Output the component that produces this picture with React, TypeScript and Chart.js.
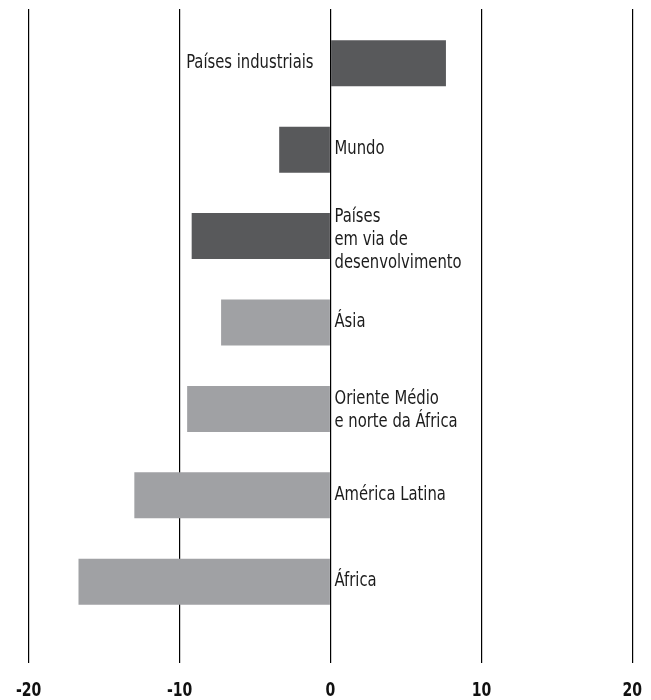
import React, { useEffect, useRef } from "react";
import { Chart, registerables } from "chart.js";

Chart.register(...registerables);

const categories: string[][] = [
  ["Países industriais"],
  ["Mundo"],
  ["Países", "em via de", "desenvolvimento"],
  ["Ásia"],
  ["Oriente Médio", "e norte da África"],
  ["América Latina"],
  ["África"],
];
const values: number[] = [7.65, -3.4, -9.2, -7.25, -9.5, -13.0, -16.7];
const groups: string[] = ["dark", "dark", "dark", "light", "light", "light", "light"];
const xTicks: number[] = [-20, -10, 0, 10, 20];
const xTickLabels: string[] = ["-20", "-10", "0", "10", "20"];

const DARK = "#58595b";
const LIGHT = "#a0a1a4";
const FONT = "'DejaVu Sans Condensed', 'DejaVu Sans', sans-serif";

function drawScaledText(ctx: CanvasRenderingContext2D, text: string, x: number, y: number, sx: number) {
  ctx.save();
  ctx.translate(x, y);
  ctx.scale(sx, 1);
  ctx.fillText(text, 0, 0);
  ctx.restore();
}

const labelPlugin = {
  id: "barLabels",
  afterDatasetsDraw(chart: any) {
    const ctx = chart.ctx;
    const meta = chart.getDatasetMeta(0);
    const xScale = chart.scales.x;
    const zero = xScale.getPixelForValue(0);
    ctx.save();
    ctx.font = `19px ${FONT}`;
    ctx.fillStyle = "#1c1c1c";
    ctx.textBaseline = "alphabetic";
    meta.data.forEach((bar: any, i: number) => {
      const lines = categories[i];
      const n = lines.length;
      const v = values[i];
      const x = v >= 0 ? zero - 17 : zero + 4;
      ctx.textAlign = v >= 0 ? "right" : "left";
      lines.forEach((line, j) => {
        const y = bar.y + 4.5 + (j - (n - 1) / 2) * 23 + (n - 1) * 2.25;
        drawScaledText(ctx, line, x, y, 0.865);
      });
    });
    ctx.restore();
  },
  afterDraw(chart: any) {
    const ctx = chart.ctx;
    const xScale = chart.scales.x;
    const bottom = chart.chartArea.bottom;
    ctx.save();
    ctx.font = `bold 20px ${FONT}`;
    ctx.fillStyle = "#111";
    ctx.textAlign = "center";
    ctx.textBaseline = "alphabetic";
    xTicks.forEach((v, i) => {
      const px = xScale.getPixelForValue(v);
      drawScaledText(ctx, xTickLabels[i], px, bottom + 70.5, 0.78);
    });
    ctx.restore();
  },
};

export default function App() {
  const ref = useRef<HTMLCanvasElement>(null);
  useEffect(() => {
    if (!ref.current) return;
    const chart = new Chart(ref.current, {
      type: "bar",
      data: {
        labels: categories.map((c) => c.join(" ")),
        datasets: [
          {
            data: values,
            backgroundColor: groups.map((g) => (g === "dark" ? DARK : LIGHT)),
            borderWidth: 0,
            barPercentage: 1,
            categoryPercentage: 0.532,
          },
        ],
      },
      options: {
        indexAxis: "y",
        animation: false,
        responsive: true,
        maintainAspectRatio: false,
        layout: { padding: { top: 9, left: 28.7, right: 18.7, bottom: 37 } },
        plugins: { legend: { display: false }, tooltip: { enabled: false } },
        scales: {
          x: {
            type: "linear",
            position: "bottom",
            min: -20,
            max: 20,
            afterBuildTicks: (axis: any) => {
              axis.ticks = xTicks.map((v) => ({ value: v }));
            },
            grid: { color: "#000", lineWidth: 1.2, tickLength: 38, drawOnChartArea: true, drawTicks: true },
            border: { display: false },
            ticks: { display: false },
          },
          x2: {
            type: "linear",
            position: "top",
            min: -20,
            max: 20,
            afterBuildTicks: (axis: any) => {
              axis.ticks = xTicks.map((v) => ({ value: v }));
            },
            grid: { color: "#000", lineWidth: 1.2, tickLength: 11, drawOnChartArea: false, drawTicks: true },
            border: { display: false },
            ticks: { display: false },
          },
          y: { display: false, grid: { display: false } },
        },
      },
      plugins: [labelPlugin],
    });
    return () => chart.destroy();
  }, []);
  return (
    <div style={{ position: "absolute", left: 0, top: 0, width: 651, height: 700, background: "#fff" }}>
      <canvas ref={ref} />
    </div>
  );
}
